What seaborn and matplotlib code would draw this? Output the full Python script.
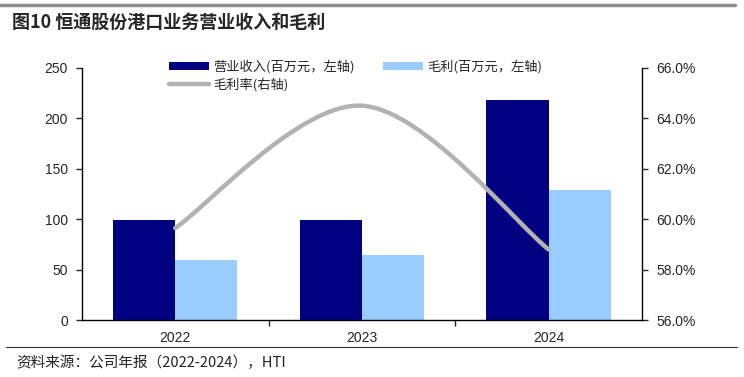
import numpy as np
import pandas as pd
import matplotlib
matplotlib.use("Agg")
import matplotlib.pyplot as plt
import seaborn as sns
from matplotlib.path import Path
from matplotlib.patches import PathPatch, Patch
from matplotlib.lines import Line2D

years = ["2022", "2023", "2024"]
revenue = [99.5, 98.9, 218.0]
gross_profit = [59.5, 64.5, 129.0]
margin = [59.65, 64.5, 58.8]
series_names = ["营业收入(百万元，左轴)", "毛利(百万元，左轴)", "毛利率(右轴)"]
left_ticks = [0, 50, 100, 150, 200, 250]
right_ticks = [56, 58, 60, 62, 64, 66]

sns.set_style("white")
plt.rcParams['font.family'] = ['Liberation Sans', 'Noto Sans CJK SC', 'DejaVu Sans']
cjk = ['Noto Sans CJK SC', 'DejaVu Sans']

navy = "#000080"
light = "#99CCFF"
gray = "#B2B2B2"

df = pd.DataFrame({
    "year": years * 2,
    "value": revenue + gross_profit,
    "series": [series_names[0]] * 3 + [series_names[1]] * 3,
})

fig = plt.figure(figsize=(7.44, 3.77), dpi=100)
ax = fig.add_axes([0.110, 0.151, 0.753, 0.669])
sns.barplot(data=df, x="year", y="value", hue="series", palette=[navy, light],
            width=0.667, gap=0, ax=ax, legend=False, saturation=1, linewidth=0)
ax.set_xlim(-0.5, 2.5)
ax.set_ylim(0, 250)
ax.set_yticks(left_ticks)
ax.set_xlabel("")
ax.set_ylabel("")
for s in ["top", "right"]:
    ax.spines[s].set_visible(False)
for s in ["left", "bottom"]:
    ax.spines[s].set_color("black")
    ax.spines[s].set_linewidth(1.0)
ax.tick_params(axis="y", direction="out", length=4, width=1, labelsize=10, pad=6, left=True)
ax.tick_params(axis="x", which="major", length=0, labelsize=10, pad=8)
ax.set_xticks([0.5, 1.5], minor=True)
ax.tick_params(axis="x", which="minor", direction="out", length=4, width=1, bottom=True)

ax2 = ax.twinx()
ax2.set_ylim(56, 66)
ax2.set_yticks(right_ticks)
ax2.set_yticklabels([f"{v:.1f}%" for v in right_ticks])
for s in ["top", "left", "bottom"]:
    ax2.spines[s].set_visible(False)
ax2.spines["right"].set_color("black")
ax2.spines["right"].set_linewidth(1.0)
ax2.tick_params(axis="y", direction="out", length=4, width=1, labelsize=10, pad=6, right=True)

# smoothed line (Excel-like cubic Bezier through the data points)
P = np.column_stack([np.arange(len(margin), dtype=float), np.array(margin, dtype=float)])
ext = np.vstack([P[0], P, P[-1]])
verts = [tuple(P[0])]
codes = [Path.MOVETO]
for i in range(len(P) - 1):
    c1 = ext[i + 1] + (ext[i + 2] - ext[i]) / 6.0
    c2 = ext[i + 2] - (ext[i + 3] - ext[i + 1]) / 6.0
    verts += [tuple(c1), tuple(c2), tuple(P[i + 1])]
    codes += [Path.CURVE4] * 3
patch = PathPatch(Path(verts, codes), facecolor="none", edgecolor=gray, lw=3.2,
                  capstyle="round", transform=ax2.transData, zorder=5)
ax2.add_patch(patch)

handles = [Patch(facecolor=navy, edgecolor="none"),
           Line2D([0], [0], color=gray, lw=3.2),
           Patch(facecolor=light, edgecolor="none")]
labels = [series_names[0], series_names[2], series_names[1]]
leg = ax.legend(handles, labels, ncol=2, loc="upper left", bbox_to_anchor=(0.135, 1.08),
                frameon=False, prop={"family": cjk, "size": 9.5}, handlelength=3.0,
                handleheight=0.55, handletextpad=0.3, columnspacing=2.2, labelspacing=0.3)
leg.set_zorder(10)

# decorations
fig.add_artist(Line2D([0.0, 0.988], [0.987, 0.987], color="#8c8c8c", lw=2.5))
fig.text(0.016, 0.942, "图10 恒通股份港口业务营业收入和毛利", fontsize=13, fontweight="bold",
         family=cjk, va="center", ha="left")
fig.add_artist(Line2D([0.008, 0.99], [0.080, 0.080], color="#333333", lw=0.8))
fig.text(0.022, 0.038, "资料来源：公司年报（2022-2024），HTI", fontsize=10.5,
         family=cjk, va="center", ha="left", color="#222222")

fig.savefig("out.png", dpi=100)
